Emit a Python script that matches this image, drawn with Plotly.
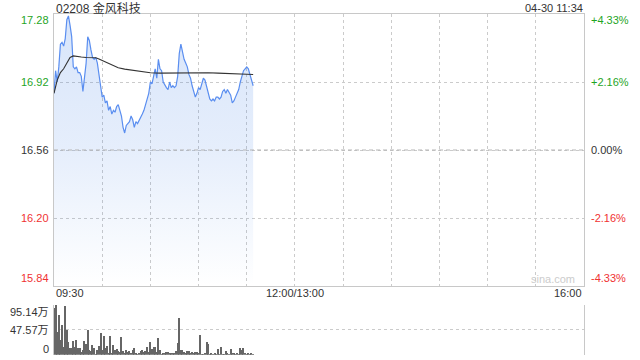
import plotly.graph_objects as go

# ---------------- data ----------------
title_text = "02208 金风科技"
time_text = "04-30 11:34"
prev_close = 16.56

minutes = list(range(125))  # minutes since 09:30
price = [16.86, 16.98, 16.92, 17.00, 17.12, 17.13, 17.11, 17.15, 17.25, 17.27,
         17.22, 17.16, 17.00, 16.99, 17.00, 16.97, 16.97, 16.95, 16.87, 16.95,
         17.02, 17.16, 17.14, 17.09, 17.05, 17.04, 17.05, 17.02, 16.97, 16.90,
         16.84, 16.85, 16.81, 16.82, 16.77, 16.79, 16.75, 16.77, 16.76, 16.79,
         16.80, 16.77, 16.74, 16.68, 16.65, 16.69, 16.70, 16.71, 16.74, 16.72,
         16.68, 16.71, 16.70, 16.72, 16.74, 16.75, 16.77, 16.80, 16.83, 16.86,
         16.92, 16.91, 16.95, 16.99, 16.94, 17.04, 16.99, 16.98, 16.92, 16.90,
         16.89, 16.88, 16.92, 16.89, 16.90, 16.89, 16.90, 16.95, 17.07, 17.12,
         17.08, 17.04, 17.02, 17.00, 16.96, 16.94, 16.90, 16.87, 16.84, 16.86,
         16.89, 16.88, 16.91, 16.94, 16.93, 16.90, 16.86, 16.83, 16.82, 16.83,
         16.82, 16.84, 16.84, 16.83, 16.84, 16.87, 16.88, 16.86, 16.88, 16.86,
         16.85, 16.81, 16.82, 16.84, 16.86, 16.88, 16.92, 16.95, 16.98, 16.99,
         17.00, 16.99, 16.96, 16.94, 16.90]

vwap_minutes = [0, 1, 2, 3, 4, 6, 8, 10, 12, 14, 17, 20, 23, 26, 28, 30, 33, 36,
                40, 44, 48, 52, 56, 60, 66, 72, 78, 84, 90, 96, 102, 108, 114, 120, 124]
vwap = [16.86, 16.90, 16.93, 16.95, 16.97, 16.99, 17.02, 17.05, 17.058, 17.055,
        17.052, 17.050, 17.050, 17.048, 17.042, 17.034, 17.020, 17.007, 16.995,
        16.988, 16.983, 16.978, 16.973, 16.969, 16.967, 16.968, 16.970, 16.971,
        16.970, 16.969, 16.967, 16.964, 16.962, 16.961, 16.960]

volume = [88.8, 95.14, 44.4, 76, 28.5, 57, 15.9, 93.9, 47.6, 25.4,
          14, 14, 26.6, 15.9, 28.5, 14, 12.7, 6.3, 9.5, 26.6,
          20.3, 47.6, 9.5, 7.6, 19, 12.7, 1.3, 9.5, 17.1, 41.2,
          9.5, 36.2, 12.7, 17.1, 3.2, 36.8, 3.2, 19, 9.5, 10.8,
          7.6, 6.3, 34.9, 7.6, 3.2, 9.5, 5.1, 7.6, 3.2, 9.5,
          14, 3.2, 1.3, 4.4, 7.6, 9.5, 6.3, 7.6, 15.9, 5.1,
          24.1, 11.4, 15.9, 15.9,
          5.1, 31.7, 9.5, 0.6, 4.4, 3.2, 5.1, 5.1, 3.2, 2.5,
          2.5, 3.2, 7.6, 22.2, 69.8, 9.5, 9.5, 6.3, 4.4, 7.6,
          7.6, 4.4, 6.3, 3.2, 6.3, 6.3, 3.2, 38.1, 1.3, 1.3,
          3.2, 24.1, 20.3, 1.3, 3.2, 1.3, 3.2, 1.3, 10.8, 1.3,
          15.9, 1.3, 1.3, 8.2, 2.5, 1.3, 10.8, 3.2, 3.2, 1.3,
          4.4, 1.3, 12.7, 9.5, 14, 3.2, 1.3, 3.2, 0.5, 2.5, 1.0]

price_ticks = [17.28, 16.92, 16.56, 16.20, 15.84]
price_tick_text = ["17.28", "16.92", "16.56", "16.20", "15.84"]
pct_tick_text = ["+4.33%", "+2.16%", "0.00%", "-2.16%", "-4.33%"]
vol_ticks = [95.14, 47.57, 0]
vol_tick_text = ["95.14万", "47.57万", "0"]
x_tick_vals = [0, 150, 330]
x_tick_text = ["09:30", "12:00/13:00", "16:00"]
grid_minutes = list(range(0, 331, 30))

# ---------------- style ----------------
W, H = 640, 360
FONT = "Liberation Sans, Arial, Noto Sans CJK SC, sans-serif"
GREEN = "#1fa51f"
RED = "#f03232"
DARK = "#333333"
GRID = "#cbcbcb"
BORDER = "#c8c8c8"
LINE = "#5a8ef0"

def px_x(p):
    return p / W

def px_y(p):
    return 1 - p / H

fig = go.Figure()

fig.add_trace(go.Scatter(
    x=minutes, y=price, mode="lines",
    line=dict(color=LINE, width=1.2),
    fill="tozeroy",
    fillgradient=dict(type="vertical", start=15.84, stop=17.28,
                      colorscale=[[0, "rgba(60,125,230,0.0)"],
                                  [0.5, "rgba(60,125,230,0.13)"],
                                  [1, "rgba(60,125,230,0.2)"]]),
    xaxis="x", yaxis="y", hoverinfo="skip", showlegend=False))

fig.add_trace(go.Scatter(
    x=vwap_minutes, y=vwap, mode="lines",
    line=dict(color="#333333", width=1.1),
    xaxis="x", yaxis="y", hoverinfo="skip", showlegend=False))

fig.add_trace(go.Bar(
    x=minutes, y=volume, width=0.7,
    marker=dict(color="#666666", line=dict(width=0)),
    xaxis="x2", yaxis="y2", hoverinfo="skip", showlegend=False))

x_dom = [px_x(54), px_x(584)]
fig.update_layout(
    width=W, height=H,
    margin=dict(l=0, r=0, t=0, b=0),
    paper_bgcolor="white", plot_bgcolor="white",
    font=dict(family=FONT, size=11, color=DARK),
    showlegend=False,
    bargap=0,
    xaxis=dict(domain=x_dom, range=[0, 330], tickvals=grid_minutes,
               showticklabels=False, ticks="", showgrid=True,
               gridcolor=GRID, griddash="dot", gridwidth=1,
               showline=True, linecolor=BORDER, linewidth=1, mirror=True,
               zeroline=False, fixedrange=True),
    yaxis=dict(domain=[px_y(286), px_y(14)], range=[15.84, 17.28],
               tickvals=price_ticks, showticklabels=False, ticks="",
               showgrid=True, gridcolor=GRID, griddash="dot", gridwidth=1,
               showline=True, linecolor=BORDER, linewidth=1, mirror=True,
               zeroline=False, fixedrange=True),
    xaxis2=dict(domain=x_dom, range=[0, 330], showticklabels=False,
                ticks="", showgrid=False, showline=False, zeroline=False,
                anchor="y2", fixedrange=True),
    yaxis2=dict(domain=[px_y(354.7), px_y(304.7)], range=[0, 95.14],
                tickvals=vol_ticks, showticklabels=False, ticks="",
                showgrid=True, gridcolor=GRID, griddash="dot", gridwidth=1,
                showline=True, linecolor=BORDER, linewidth=1, mirror=True,
                zeroline=False, anchor="x2", fixedrange=True),
)

# previous close dashed line
fig.add_shape(type="line", xref="x", yref="y", x0=0, x1=330,
              y0=prev_close, y1=prev_close,
              line=dict(color="#b4b4b4", width=1, dash="4px,3px"), layer="above")

# price tick labels (left) and percent labels (right)
colors = [GREEN, GREEN, DARK, RED, RED]
shifts = [-6, 0, 0, 0, 8]
for v, t, pt, c, s in zip(price_ticks, price_tick_text, pct_tick_text, colors, shifts):
    fig.add_annotation(xref="paper", yref="y", x=px_x(51), y=v, text=t,
                       xanchor="right", yanchor="middle", showarrow=False,
                       yshift=s, font=dict(color=c, size=11))
    fig.add_annotation(xref="paper", yref="y", x=px_x(589), y=v, text=pt,
                       xanchor="left", yanchor="middle", showarrow=False,
                       yshift=s, font=dict(color=c, size=11))

# volume labels
vshifts = [-7, 0, 6]
for v, t, s in zip(vol_ticks, vol_tick_text, vshifts):
    fig.add_annotation(xref="paper", yref="y2", x=px_x(51), y=v, text=t,
                       xanchor="right", yanchor="middle", showarrow=False,
                       yshift=s, font=dict(color=DARK, size=11))

# time labels
anchors = ["left", "center", "right"]
for v, t, a in zip(x_tick_vals, x_tick_text, anchors):
    fig.add_annotation(xref="x", yref="paper", x=v, y=px_y(293), text=t,
                       xanchor=a, yanchor="middle", showarrow=False,
                       font=dict(color=DARK, size=11))

# title & timestamp
fig.add_annotation(xref="paper", yref="paper", x=px_x(54), y=px_y(8),
                   text=title_text, xanchor="left", yanchor="middle",
                   showarrow=False, font=dict(color=DARK, size=12))
fig.add_annotation(xref="paper", yref="paper", x=px_x(585), y=px_y(8),
                   text=time_text, xanchor="right", yanchor="middle",
                   showarrow=False, font=dict(color=DARK, size=11))

# watermark
fig.add_annotation(xref="paper", yref="paper", x=px_x(553), y=px_y(279),
                   text="sina.com", xanchor="center", yanchor="middle",
                   showarrow=False, font=dict(color="#cccccc", size=11))

fig.write_html("out.html", config={"displayModeBar": False})
